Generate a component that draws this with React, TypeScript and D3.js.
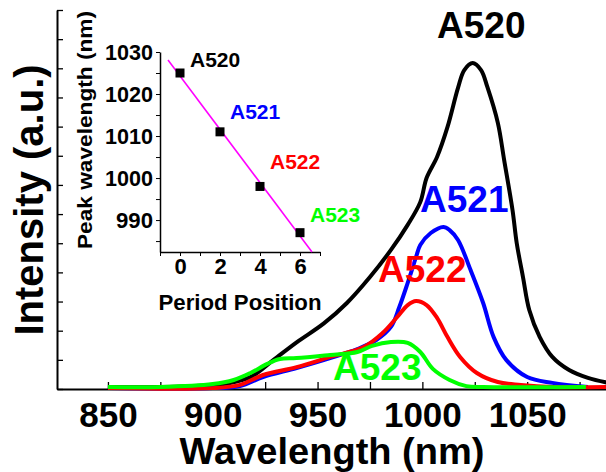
import { useEffect, useRef } from 'react';
import * as d3 from 'd3';

const W = 606;
const H = 472;
const FONT = '"Liberation Sans", Arial, sans-serif';

// main spectra (wavelength nm, intensity a.u.)
const wlA520 = [850, 875, 900, 908, 918, 929, 940, 953, 964, 975, 985, 993, 999, 1002, 1007, 1012, 1017, 1020, 1024, 1028, 1031, 1036, 1039, 1043, 1045, 1048, 1051, 1056, 1062, 1070, 1079, 1088];
const inA520 = [0.07, 0.07, 0.14, 0.2, 0.41, 1.0, 1.6, 2.25, 2.95, 3.84, 4.77, 5.63, 6.41, 7.24, 7.96, 8.99, 10.33, 10.94, 11.18, 10.94, 10.36, 9.13, 7.86, 6.14, 5.01, 3.84, 2.71, 1.78, 1.1, 0.65, 0.38, 0.22];

const wlA521 = [850, 900, 913, 924, 940, 956, 969, 978, 985, 989, 993, 997, 999, 1004, 1010, 1013, 1017, 1023, 1029, 1034, 1040, 1050, 1062, 1079];
const inA521 = [0.03, 0.03, 0.1, 0.41, 0.72, 1.06, 1.37, 1.68, 2.13, 2.81, 3.64, 4.53, 4.94, 5.35, 5.56, 5.45, 5.11, 4.08, 2.95, 1.78, 1.0, 0.41, 0.21, 0.07];

const wlA522 = [850, 900, 913, 924, 940, 956, 972, 981, 988, 993, 997, 1002, 1007, 1012, 1018, 1026, 1036, 1047, 1062, 1088];
const inA522 = [0.03, 0.03, 0.14, 0.48, 0.75, 1.1, 1.44, 1.92, 2.47, 2.88, 3.02, 2.88, 2.44, 1.78, 1.1, 0.55, 0.24, 0.14, 0.07, 0.07];

const wlA523 = [850, 875, 900, 910, 918, 926, 932, 940, 956, 969, 976, 985, 993, 999, 1005, 1013, 1021, 1029, 1078];
const inA523 = [0.07, 0.07, 0.17, 0.31, 0.55, 0.86, 1.03, 1.06, 1.17, 1.27, 1.48, 1.61, 1.58, 1.27, 0.69, 0.31, 0.1, 0.07, 0.07];

const series = [
  { name: 'A520', color: '#000000', wl: wlA520, y: inA520 },
  { name: 'A521', color: '#0000ff', wl: wlA521, y: inA521 },
  { name: 'A522', color: '#ff0000', wl: wlA522, y: inA522 },
  { name: 'A523', color: '#00ff00', wl: wlA523, y: inA523 },
];

// inset: peak wavelength vs period position
const periodPos = [0, 2, 4, 6];
const peakWl = [1025, 1011, 998, 987];
const insetNames = ['A520', 'A521', 'A522', 'A523'];
const insetColors = ['#000000', '#0000ff', '#ff0000', '#00ff00'];

export default function App() {
  const ref = useRef<SVGSVGElement>(null);

  useEffect(() => {
    if (!ref.current) return;
    const svg = d3.select(ref.current);
    svg.selectAll('*').remove();

    const x = d3.scaleLinear().domain([825.7, 1087.6]).range([57, 606]);
    const y = d3.scaleLinear().domain([0, 13]).range([389, 10]);

    const boldText = (sel: any, size: number) =>
      sel.attr('font-family', FONT).attr('font-weight', 'bold').attr('font-size', size).attr('fill', '#000');

    // main axes
    const xAxis = svg.append('g').attr('transform', 'translate(0,389)')
      .call(d3.axisBottom(x).tickValues(d3.range(850, 1076, 25)).tickSizeInner(-7).tickSizeOuter(0).tickPadding(13)
        .tickFormat(d => (+d % 50 === 0 ? String(d) : '')));
    xAxis.select('.domain').attr('stroke-width', 2);
    xAxis.selectAll('.tick line').attr('stroke-width', 1.3);
    xAxis.selectAll('.tick text').filter(function (this: any) { return !this.textContent; }).remove();
    boldText(xAxis.selectAll('text'), 35);

    const yAxis = svg.append('g').attr('transform', 'translate(57,0)')
      .call(d3.axisLeft(y).tickValues(d3.range(0, 14, 1)).tickSizeInner(-6).tickSizeOuter(0).tickFormat(() => ''));
    yAxis.select('.domain').attr('stroke-width', 2);
    yAxis.selectAll('.tick line').attr('stroke-width', 1.3);
    yAxis.selectAll('.tick text').remove();

    boldText(svg.append('text'), 37).attr('x', 332).attr('y', 464).attr('text-anchor', 'middle')
      .attr('textLength', 305).attr('lengthAdjust', 'spacingAndGlyphs')
      .text('Wavelength (nm)');
    boldText(svg.append('text'), 40).attr('transform', 'translate(43,200) rotate(-90)').attr('text-anchor', 'middle')
      .text('Intensity (a.u.)');

    // spectra
    const line = d3.line<[number, number]>().x(d => x(d[0])).y(d => y(d[1])).curve(d3.curveCatmullRom.alpha(0.5));
    series.forEach(s => {
      const pts = s.wl.map((w, i) => [w, s.y[i]] as [number, number]);
      svg.append('path').attr('d', line(pts)).attr('fill', 'none')
        .attr('stroke', s.color).attr('stroke-width', 4).attr('stroke-linejoin', 'round');
    });

    // big labels
    const bigLabels = [
      { t: 'A520', c: '#000000', x: 437, y: 38 },
      { t: 'A521', c: '#0000ff', x: 420, y: 212 },
      { t: 'A522', c: '#ff0000', x: 378, y: 282 },
      { t: 'A523', c: '#00ff00', x: 333, y: 380 },
    ];
    bigLabels.forEach(l => {
      boldText(svg.append('text'), 37).attr('x', l.x).attr('y', l.y).attr('fill', l.c).text(l.t);
    });

    // inset
    const xi = d3.scaleLinear().domain([-1, 7]).range([160, 320]);
    const yi = d3.scaleLinear().domain([982.4, 1030]).range([252, 52]);

    const xiAxis = svg.append('g').attr('transform', 'translate(0,252)')
      .call(d3.axisBottom(xi).tickValues(d3.range(-1, 8, 1)).tickSizeInner(4).tickSizeOuter(0).tickPadding(2)
        .tickFormat(d => (+d >= 0 && +d % 2 === 0 ? String(d) : '')));
    xiAxis.select('.domain').attr('stroke-width', 1.5);
    xiAxis.selectAll('.tick text').filter(function (this: any) { return !this.textContent; }).remove();
    boldText(xiAxis.selectAll('text'), 22);

    const yiAxis = svg.append('g').attr('transform', 'translate(160,0)')
      .call(d3.axisLeft(yi).tickValues(d3.range(985, 1031, 5)).tickSizeInner(4).tickSizeOuter(0).tickPadding(3)
        .tickFormat(d => (+d % 10 === 0 ? String(d) : '')));
    yiAxis.select('.domain').attr('stroke-width', 1.5);
    yiAxis.selectAll('.tick text').filter(function (this: any) { return !this.textContent; }).remove();
    boldText(yiAxis.selectAll('text'), 22).attr('textLength', 48).attr('lengthAdjust', 'spacingAndGlyphs');
    yiAxis.selectAll('.tick text').filter(function (this: any) { return (this.textContent || '').length < 4; })
      .attr('textLength', 37);

    boldText(svg.append('text'), 22).attr('x', 240).attr('y', 310).attr('text-anchor', 'middle')
      .attr('textLength', 163).attr('lengthAdjust', 'spacingAndGlyphs')
      .text('Period Position');
    boldText(svg.append('text'), 21).attr('transform', 'translate(92,130) rotate(-90)').attr('text-anchor', 'middle')
      .attr('textLength', 238).attr('lengthAdjust', 'spacingAndGlyphs')
      .text('Peak wavelength (nm)');

    // linear fit
    const mx = d3.mean(periodPos)!;
    const my = d3.mean(peakWl)!;
    const slope = d3.sum(periodPos.map((p, i) => (p - mx) * (peakWl[i] - my))) / d3.sum(periodPos.map(p => (p - mx) ** 2));
    const fit = (p: number) => my + slope * (p - mx);
    svg.append('line').attr('x1', xi(-0.6)).attr('y1', yi(fit(-0.6))).attr('x2', xi(6.6)).attr('y2', yi(fit(6.6)))
      .attr('stroke', '#ff00ff').attr('stroke-width', 1.6);

    periodPos.forEach((p, i) => {
      svg.append('rect').attr('x', xi(p) - 4.5).attr('y', yi(peakWl[i]) - 4.5)
        .attr('width', 9).attr('height', 9).attr('fill', '#000');
      boldText(svg.append('text'), 21).attr('x', xi(p) + 10).attr('y', yi(peakWl[i]) - [6, 13, 17, 11][i])
        .attr('fill', insetColors[i]).text(insetNames[i]);
    });
  }, []);

  return (
    <svg ref={ref} width={W} height={H} style={{ position: 'absolute', left: 0, top: 0, background: '#fff' }} />
  );
}
